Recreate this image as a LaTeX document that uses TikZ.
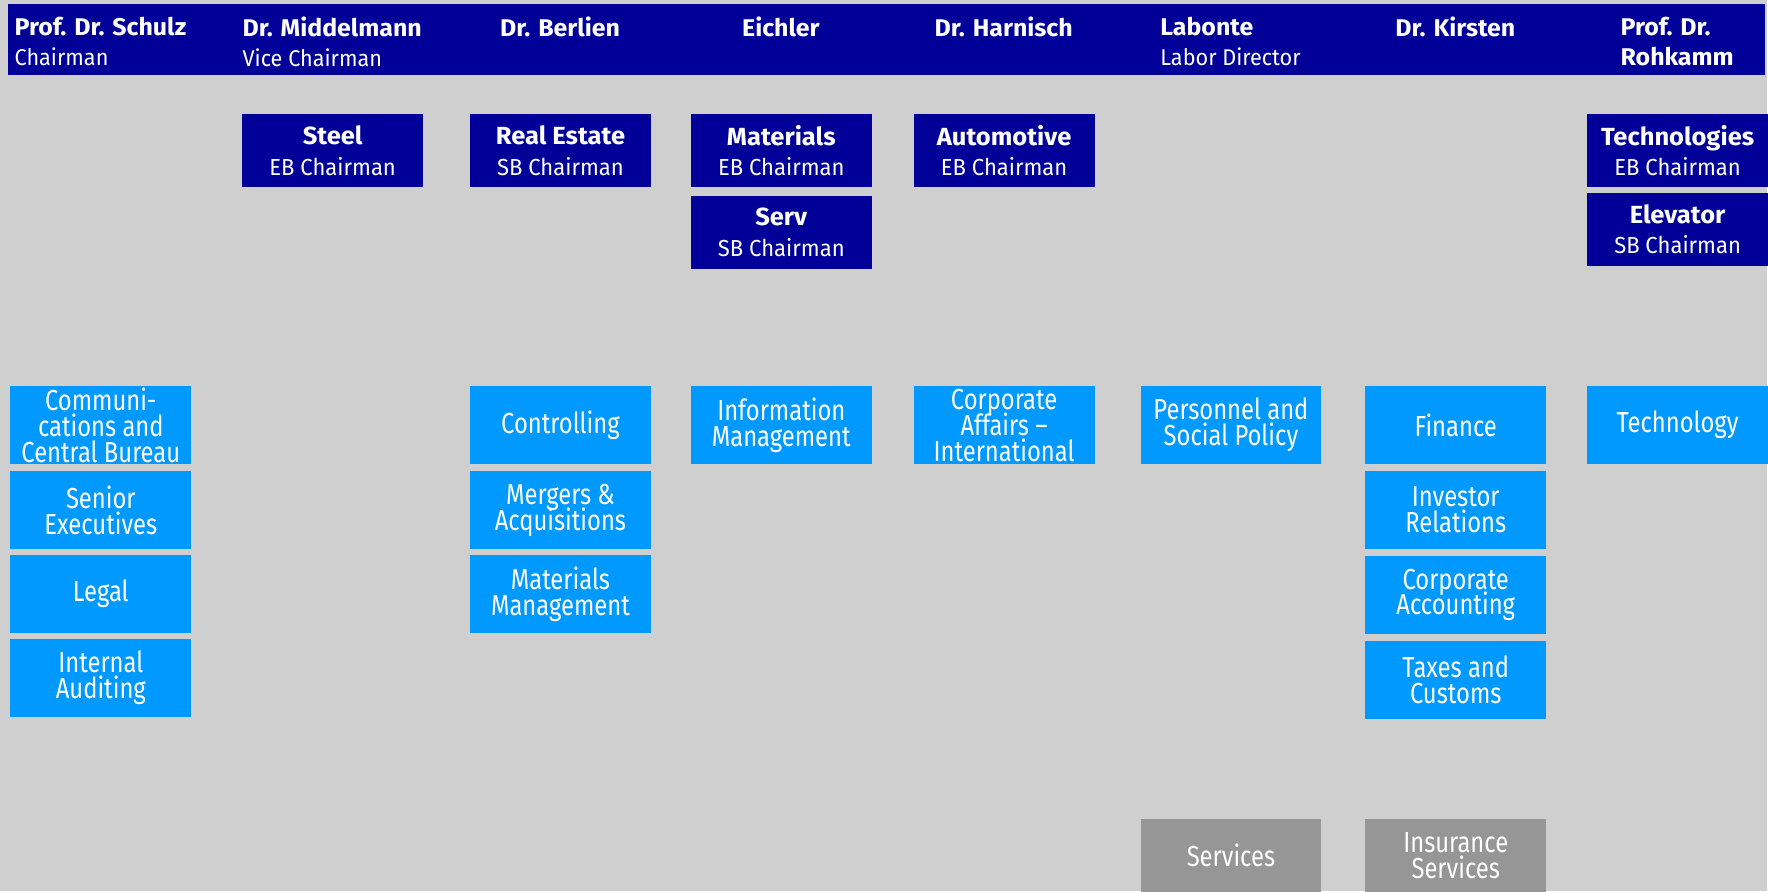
\documentclass[tikz,border=0pt]{standalone}
\usepackage{fontspec}
\setmainfont{Fira Sans}[FakeStretch=0.95, BoldFeatures={FakeStretch=1.03}]
\newfontfamily\deptfont{Fira Sans}[FakeStretch=0.82]
\definecolor{boardblue}{RGB}{0,0,153}
\definecolor{deptblue}{RGB}{0,153,255}
\definecolor{servgray}{RGB}{150,150,150}
\definecolor{bggray}{RGB}{207,207,207}
\newcommand{\segment}[2]{{\bfseries\fontsize{12.4}{15.2}\selectfont #1}\\#2}
\newcommand{\deptsize}{\fontsize{14.5}{13}\selectfont\lineskiplimit-20pt\relax}
\begin{document}
\begin{tikzpicture}[x=0.5pt,y=-0.5pt,
    board/.style={anchor=north, inner sep=0pt, align=left, text=white,
        font=\fontsize{11.4}{15}\selectfont},
    exec/.style={anchor=north west, fill=boardblue, text=white, inner sep=0pt,
        minimum width=90.5pt, minimum height=36.3pt, align=center,
        font=\fontsize{11.6}{15.2}\selectfont},
    dept/.style={anchor=north west, fill=deptblue, text=white, inner sep=0pt,
        minimum width=90.5pt, minimum height=39pt, align=center,
        font=\deptfont\deptsize},
    serv/.style={dept, fill=servgray, minimum height=36.5pt}]
                % Background and the board bar
                \fill[bggray] (0,0) rectangle (1768,892);
                \fill[boardblue] (8,4) rectangle (1766,75);
                % The board members
                \node[board] (schulz) at (100.5,17) {{\bfseries\fontsize{12.1}{15}\selectfont Prof. Dr. Schulz}\\Chairman};
                \node[board] (middelmann) at (332.5,17) {{\bfseries\fontsize{12.1}{15}\selectfont Dr. Middelmann}\\Vice Chairman};
                \node[board] (berlien) at (560.5,17) {\bfseries\fontsize{12.1}{15}\selectfont Dr. Berlien};
                \node[board] (eichler) at (781.5,17) {\bfseries\fontsize{12.1}{15}\selectfont Eichler};
                \node[board] (harnisch) at (1004.5,17) {\bfseries\fontsize{12.1}{15}\selectfont Dr. Harnisch};
                \node[board] (labonte) at (1231.5,17) {{\bfseries\fontsize{12.1}{15}\selectfont Labonte}\\Labor Director};
                \node[board] (kirsten) at (1456.5,17) {\bfseries\fontsize{12.1}{15}\selectfont Dr. Kirsten};
                \node[board] (rohkamm) at (1678.5,17) {\bfseries\fontsize{12.1}{15}\selectfont Prof. Dr.\\\bfseries\fontsize{12.1}{15}\selectfont Rohkamm};
                % The segment chairmanships
                \node[exec] (steel) at (242,114) {\segment{Steel}{EB Chairman}};
                \node[exec] (realestate) at (470,114) {\segment{Real Estate}{SB Chairman}};
                \node[exec] (materials) at (691,114) {\segment{Materials}{EB Chairman}};
                \node[exec] (serv) at (691,196) {\segment{Serv}{SB Chairman}};
                \node[exec] (automotive) at (914,114) {\segment{Automotive}{EB Chairman}};
                \node[exec] (technologies) at (1588,114) {\segment{Technologies}{EB Chairman}};
                \node[exec] (elevator) at (1588,193) {\segment{Elevator}{SB Chairman}};
                % The corporate functions
                \node[dept] (commu) at (10,386) {Communi-\\cations and\\Central Bureau};
                \node[dept] (senior) at (10,471) {Senior\\Executives};
                \node[dept] (legal) at (10,555) {Legal};
                \node[dept] (audit) at (10,639) {Internal\\Auditing};
                \node[dept] (controlling) at (470,386) {Controlling};
                \node[dept] (mergers) at (470,471) {Mergers \&\\Acquisitions};
                \node[dept] (matmgmt) at (470,555) {Materials\\Management};
                \node[dept] (infomgmt) at (691,386) {Information\\Management};
                \node[dept] (corpaff) at (914,386) {Corporate\\Affairs \textendash\\International};
                \node[dept] (personnel) at (1141,386) {Personnel and\\Social Policy};
                \node[dept] (finance) at (1366,386) {Finance};
                \node[dept] (investor) at (1366,471) {Investor\\Relations};
                \node[dept] (accounting) at (1366,556) {Corporate\\Accounting};
                \node[dept] (taxes) at (1366,641) {Taxes and\\Customs};
                \node[dept] (technology) at (1588,386) {Technology};
                % The service companies
                \node[serv] (services) at (1141,819) {Services};
                \node[serv] (insurance) at (1366,819) {Insurance\\Services};
\end{tikzpicture}
\end{document}
